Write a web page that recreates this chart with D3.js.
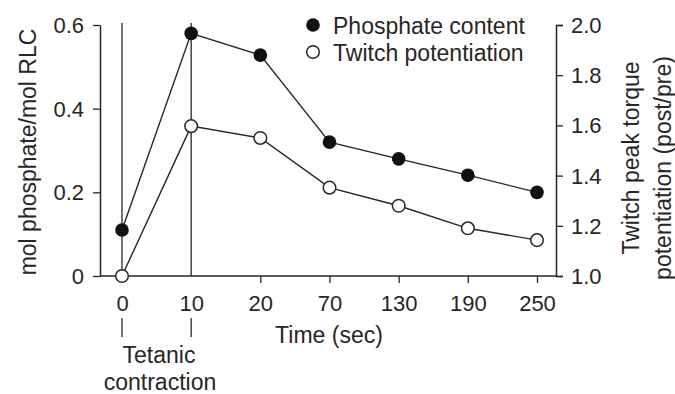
<!DOCTYPE html>
<html>
<head>
<meta charset="utf-8">
<script src="https://cdn.jsdelivr.net/npm/d3@7"></script>
<style>
  html, body { margin: 0; padding: 0; background: #fff; }
  svg { display: block; font-family: "Liberation Sans", Arial, Helvetica, sans-serif; }
</style>
</head>
<body>
<svg id="chart" width="675" height="394"></svg>
<script>
const timeLabels = ["0", "10", "20", "70", "130", "190", "250"];
const phosphate = [0.11, 0.58, 0.528, 0.32, 0.28, 0.241, 0.20];
const twitch = [1.0, 1.597, 1.55, 1.352, 1.28, 1.19, 1.143];
const leftTicks = [0, 0.2, 0.4, 0.6];
const rightTicks = [1.0, 1.2, 1.4, 1.6, 1.8, 2.0];
const markedTimes = ["0", "10"];

const ink = "#262626";
const svg = d3.select("#chart");
const pLeft = 100, pRight = 556, pTop = 25, pBottom = 276;

const x = d3.scalePoint().domain(timeLabels).range([122, 537]);
const yL = d3.scaleLinear().domain([0, 0.6]).range([pBottom, pTop]);
const yR = d3.scaleLinear().domain([1.0, 2.0]).range([pBottom, pTop]);

// vertical marker lines at 0 and 10
svg.selectAll("line.vmark").data(markedTimes).join("line")
  .attr("x1", d => x(d)).attr("x2", d => x(d))
  .attr("y1", pTop - 2).attr("y2", pBottom)
  .attr("stroke", ink).attr("stroke-width", 1.3);

// x baseline
svg.append("line").attr("x1", pLeft).attr("x2", pRight)
  .attr("y1", pBottom).attr("y2", pBottom)
  .attr("stroke", ink).attr("stroke-width", 1.5);

// x axis
const xAxis = svg.append("g").attr("transform", `translate(0,${pBottom})`)
  .call(d3.axisBottom(x).tickSize(7).tickSizeOuter(0).tickPadding(4));
xAxis.select(".domain").remove();
xAxis.selectAll(".tick line").attr("stroke", ink).attr("stroke-width", 1.3)
  .attr("display", d => markedTimes.includes(d) ? "none" : null);
xAxis.selectAll(".tick text").attr("font-size", 22).attr("fill", ink)
  .attr("font-family", "Liberation Sans, Arial, sans-serif")
  .attr("dy", null).attr("y", 35);

// left axis
const lAxis = svg.append("g").attr("transform", `translate(${pLeft},0)`)
  .call(d3.axisLeft(yL).tickValues(leftTicks).tickSize(7).tickSizeOuter(0).tickPadding(9)
    .tickFormat(d => d === 0 ? "0" : d3.format(".1f")(d)));
lAxis.select(".domain").attr("stroke", ink).attr("stroke-width", 1.5);
lAxis.selectAll(".tick line").attr("stroke", ink).attr("stroke-width", 1.3);
lAxis.selectAll(".tick text").attr("font-size", 22).attr("fill", ink)
  .attr("font-family", "Liberation Sans, Arial, sans-serif").attr("dy", "0.34em");

// right axis
const rAxis = svg.append("g").attr("transform", `translate(${pRight},0)`)
  .call(d3.axisRight(yR).tickValues(rightTicks).tickSize(7).tickSizeOuter(7).tickPadding(8)
    .tickFormat(d3.format(".1f")));
rAxis.select(".domain").attr("stroke", ink).attr("stroke-width", 1.5).attr("fill", "none");
rAxis.selectAll(".tick line").attr("stroke", ink).attr("stroke-width", 1.3);
rAxis.selectAll(".tick text").attr("font-size", 22).attr("fill", ink)
  .attr("font-family", "Liberation Sans, Arial, sans-serif").attr("dy", "0.34em");

// lines
const lineP = d3.line().x((d, i) => x(timeLabels[i])).y(d => yL(d));
const lineT = d3.line().x((d, i) => x(timeLabels[i])).y(d => yR(d));
svg.append("path").attr("d", lineT(twitch)).attr("fill", "none")
  .attr("stroke", ink).attr("stroke-width", 1.4);
svg.append("path").attr("d", lineP(phosphate)).attr("fill", "none")
  .attr("stroke", ink).attr("stroke-width", 1.4);

// markers
svg.selectAll("circle.tw").data(twitch).join("circle")
  .attr("cx", (d, i) => x(timeLabels[i])).attr("cy", d => yR(d)).attr("r", 6.3)
  .attr("fill", "#fff").attr("stroke", ink).attr("stroke-width", 1.5);
svg.selectAll("circle.ph").data(phosphate).join("circle")
  .attr("cx", (d, i) => x(timeLabels[i])).attr("cy", d => yL(d)).attr("r", 6.8)
  .attr("fill", "#111");

// small lines under 0 and 10 labels
svg.selectAll("line.under").data(markedTimes).join("line")
  .attr("x1", d => x(d)).attr("x2", d => x(d))
  .attr("y1", 318).attr("y2", 337)
  .attr("stroke", ink).attr("stroke-width", 1.3);

// labels
const txt = (s, xx, yy, size, anchor) => svg.append("text").text(s)
  .attr("x", xx).attr("y", yy).attr("font-size", size).attr("fill", ink)
  .attr("text-anchor", anchor || "middle");

txt("Time (sec)", 329, 343, 23);
txt("Tetanic", 159, 363, 23);
txt("contraction", 160, 390, 23);

svg.append("text").text("mol phosphate/mol RLC")
  .attr("transform", "translate(36,152) rotate(-90)")
  .attr("font-size", 23).attr("fill", ink).attr("text-anchor", "middle");

svg.append("text").text("Twitch peak torque")
  .attr("transform", "translate(639,158) rotate(-90)")
  .attr("font-size", 23).attr("fill", ink).attr("text-anchor", "middle");
svg.append("text").text("potentiation (post/pre)")
  .attr("transform", "translate(671,168) rotate(-90)")
  .attr("font-size", 23).attr("fill", ink).attr("text-anchor", "middle");

// legend
const legend = [
  { label: "Phosphate content", filled: true, y: 25 },
  { label: "Twitch potentiation", filled: false, y: 52 }
];
legend.forEach(l => {
  svg.append("circle").attr("cx", 313).attr("cy", l.y).attr("r", l.filled ? 6.8 : 6.3)
    .attr("fill", l.filled ? "#111" : "#fff")
    .attr("stroke", l.filled ? "none" : ink).attr("stroke-width", 1.5);
  txt(l.label, 333, l.y + 8.5, 23, "start");
});
</script>
</body>
</html>
